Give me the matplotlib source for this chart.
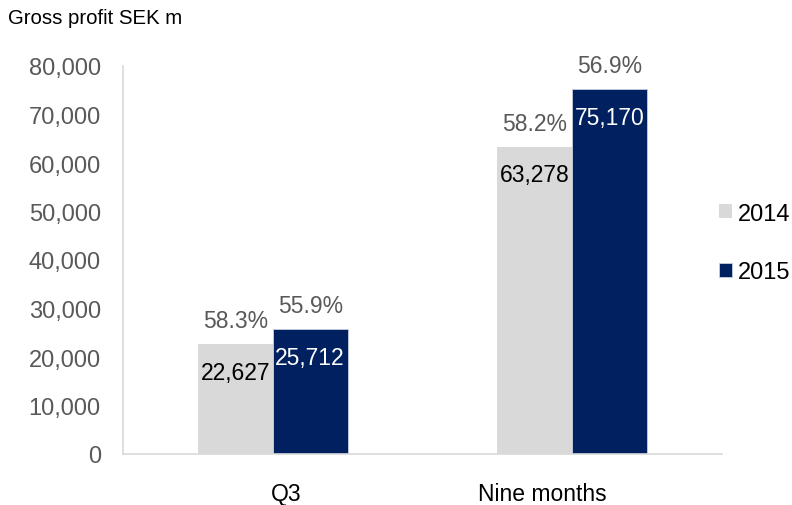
import numpy as np
import matplotlib
matplotlib.use('Agg')
import matplotlib.pyplot as plt
import matplotlib.transforms as mtransforms

plt.rcParams['font.family'] = ['Liberation Sans', 'DejaVu Sans']

categories = ['Q3', 'Nine months']
years = ['2014', '2015']
profit_2014 = [22627, 63278]
profit_2015 = [25712, 75170]
margin_2014 = ['58.3%', '58.2%']
margin_2015 = ['55.9%', '56.9%']
yticks = [0, 10000, 20000, 30000, 40000, 50000, 60000, 70000, 80000]

col_2014 = '#D9D9D9'
col_2015 = '#002060'
grey_txt = '#595959'

fig = plt.figure(figsize=(7.92, 5.06), dpi=100)
ax = fig.add_axes([123 / 792, 1 - 455 / 506, (722 - 123) / 792, (455 - 67) / 506])

x = np.arange(len(categories))
w = 0.25
b1 = ax.bar(x - w / 2, profit_2014, w, color=col_2014, label=years[0])
b2 = ax.bar(x + w / 2, profit_2015, w, color=col_2015, label=years[1],
            edgecolor='#C8CEDC', linewidth=0.6)

for bars, vals, pcts, tc in [(b1, profit_2014, margin_2014, 'black'),
                             (b2, profit_2015, margin_2015, 'white')]:
    for rect, v, p in zip(bars, vals, pcts):
        cx = rect.get_x() + rect.get_width() / 2
        ax.annotate(f'{v:,}', (cx, v), xytext=(0, -20), textcoords='offset points',
                    ha='center', va='center', fontsize=16.5, color=tc)
        ax.annotate(p, (cx, v), xytext=(0, 17), textcoords='offset points',
                    ha='center', va='center', fontsize=16.5, color=grey_txt)

ax.set_xlim(-0.5, 1.5)
ax.set_ylim(0, 80000)
ax.set_yticks(yticks)
ax.set_yticklabels([f'{t:,}' for t in yticks])
ax.set_xticks(x)
ax.set_xticklabels(categories)
ax.tick_params(axis='y', length=0, labelsize=17, labelcolor=grey_txt, pad=16)
ax.tick_params(axis='x', length=0, labelsize=16.5, labelcolor='black', pad=20)
# category labels sit a little off-centre in the original
for lbl, dx in zip(ax.get_xticklabels(), [13, -30]):
    lbl.set_transform(lbl.get_transform() +
                      mtransforms.ScaledTranslation(dx / 100, 0, fig.dpi_scale_trans))
for s in ['top', 'right']:
    ax.spines[s].set_visible(False)
for s in ['left', 'bottom']:
    ax.spines[s].set_color('#D9D9D9')
    ax.spines[s].set_linewidth(1.2)

fig.legend(handles=[b1, b2], labels=years, loc='center left',
           bbox_to_anchor=(719 / 792, 1 - 244 / 506), frameon=False,
           borderpad=0, borderaxespad=0,
           fontsize=17, handlelength=0.55, handleheight=0.55, handletextpad=0.25,
           labelspacing=1.55)

fig.text(8 / 792, 1 - 18 / 506, 'Gross profit SEK m', fontsize=14.7, va='center', ha='left')

fig.savefig('out.png', dpi=100)
